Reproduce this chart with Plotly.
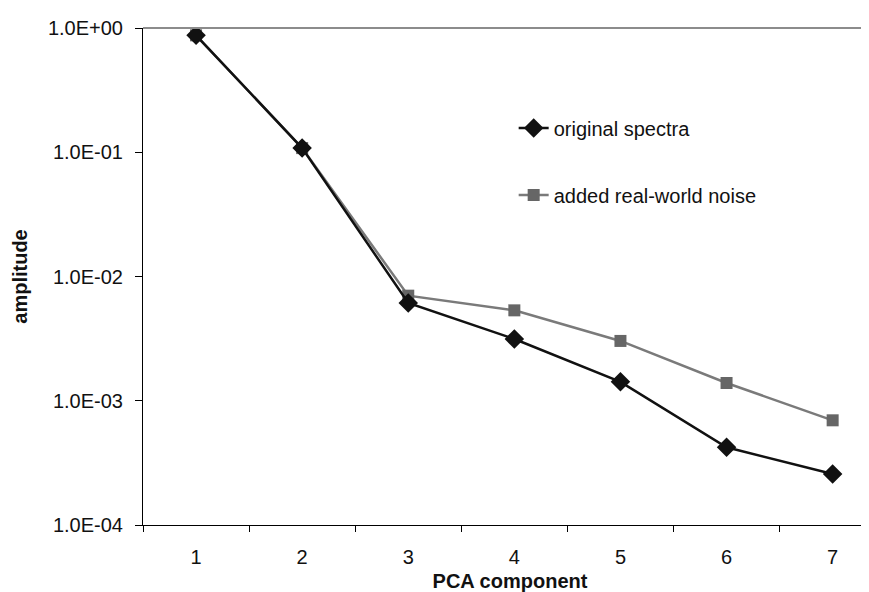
import plotly.graph_objects as go

components = [1, 2, 3, 4, 5, 6, 7]
original_spectra = [0.873, 0.108, 0.00612, 0.00314, 0.00142, 0.000422, 0.000257]
added_noise = [0.873, 0.108, 0.00701, 0.00534, 0.00303, 0.00139, 0.000696]
y_tickvals = [1e-4, 1e-3, 1e-2, 1e-1, 1]
y_ticktext = ["1.0E-04", "1.0E-03", "1.0E-02", "1.0E-01", "1.0E+00"]

FONT = "Liberation Sans, Arial, sans-serif"

fig = go.Figure()
fig.add_trace(go.Scatter(
    x=components, y=added_noise, mode="lines+markers", name="added real-world noise",
    line=dict(color="#7a7a7a", width=2.5),
    marker=dict(symbol="square", size=12, color="#666666"),
    legend="legend2", showlegend=True,
))
fig.add_trace(go.Scatter(
    x=components, y=original_spectra, mode="lines+markers", name="original spectra",
    line=dict(color="#111111", width=2.5),
    marker=dict(symbol="diamond", size=15, color="#111111"),
    legend="legend", showlegend=True,
))

fig.update_layout(
    width=869, height=592, autosize=False, showlegend=True,
    margin=dict(l=135, r=0, t=20, b=75),
    plot_bgcolor="white", paper_bgcolor="white",
    font=dict(family=FONT, size=20, color="#111111"),
    xaxis=dict(
        range=[0.5, 7.418], tickvals=components, ticktext=[str(c) for c in components],
        ticks="", showgrid=False, zeroline=False,
        showline=True, linecolor="black", linewidth=1,
        ticklabelstandoff=14,
        minor=dict(ticks="outside", tick0=0.5, dtick=1, ticklen=6, tickcolor="black", showgrid=False),
        title=dict(text="<b>PCA component</b>", font=dict(size=20), standoff=6),
    ),
    yaxis=dict(
        type="log", range=[-4, 0], tickvals=y_tickvals, ticktext=y_ticktext,
        ticks="outside", ticklen=7, tickcolor="black",
        showgrid=False, zeroline=False,
        showline=True, linecolor="black", linewidth=1,
        ticklabelstandoff=8,
        title=dict(text="<b>amplitude</b>", font=dict(size=20), standoff=14),
    ),
    legend=dict(x=0.505, y=0.799, xanchor="left", yanchor="middle",
                bgcolor="rgba(0,0,0,0)", font=dict(size=20)),
    legend2=dict(x=0.505, y=0.664, xanchor="left", yanchor="middle",
                 bgcolor="rgba(0,0,0,0)", font=dict(size=20)),
    shapes=[dict(type="line", xref="paper", yref="paper", x0=0, x1=1, y0=1, y1=1,
                 line=dict(color="#8c8c8c", width=2))],
)

fig.write_html("out.html")
